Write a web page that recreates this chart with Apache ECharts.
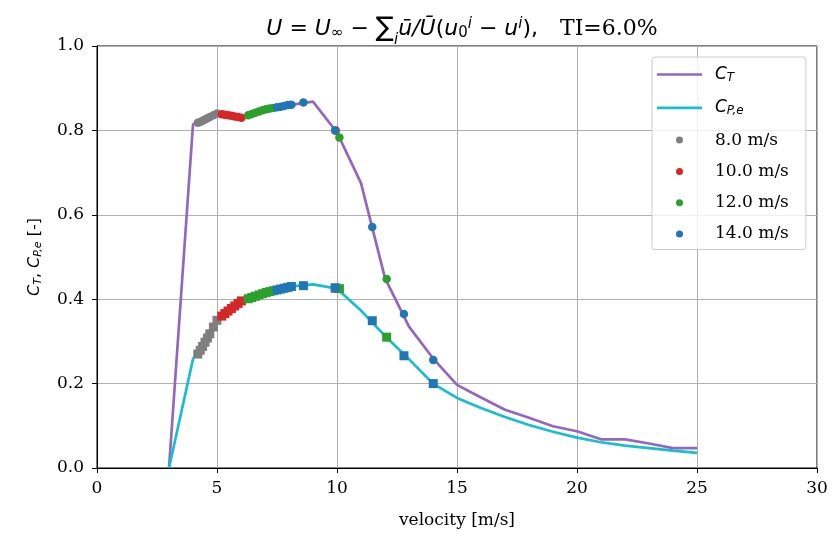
<!DOCTYPE html>
<html>
<head>
<meta charset="utf-8">
<script src="https://cdn.jsdelivr.net/npm/echarts@6/dist/echarts.min.js"></script>
<style>
  html, body { margin: 0; padding: 0; background: #fff; }
  #chart { width: 839px; height: 535px; }
</style>
</head>
<body>
<div id="chart"></div>
<script>
// Turbine curves sampled at integer wind speeds
const velocity = [3, 4, 5, 6, 7, 8, 9, 10, 11, 12, 13, 14, 15, 16, 17, 18, 19, 20, 21, 22, 23, 24, 25];
const ctCurve = [0, 0.814, 0.84, 0.83, 0.85, 0.86, 0.868, 0.795, 0.675, 0.45, 0.335, 0.26, 0.197, 0.167, 0.138, 0.119, 0.099, 0.087, 0.068, 0.068, 0.058, 0.047, 0.047];
const cpCurve = [0, 0.258, 0.35, 0.395, 0.415, 0.43, 0.435, 0.425, 0.373, 0.313, 0.258, 0.2, 0.166, 0.142, 0.121, 0.102, 0.086, 0.072, 0.061, 0.053, 0.047, 0.041, 0.036];

// Effective turbine velocities per inflow case, with their operating point
const inflowNames = ['8.0 m/s', '10.0 m/s', '12.0 m/s', '14.0 m/s'];
const inflowColors = ['#7f7f7f', '#d62728', '#2ca02c', '#1f77b4'];

const u8 = [4.2, 4.3, 4.4, 4.5, 4.6, 4.7, 4.85, 5.0];
const ct8 = [0.818, 0.82, 0.823, 0.826, 0.829, 0.832, 0.836, 0.84];
const cp8 = [0.27, 0.279, 0.288, 0.298, 0.308, 0.318, 0.334, 0.35];

const u10 = [5.2, 5.33, 5.46, 5.6, 5.74, 5.88, 6.02, 9.95];
const ct10 = [0.838, 0.837, 0.836, 0.835, 0.833, 0.832, 0.83, 0.8];
const cp10 = [0.36, 0.366, 0.372, 0.378, 0.384, 0.39, 0.396, 0.426];

const u12 = [6.3, 6.45, 6.6, 6.75, 6.9, 7.05, 7.2, 7.35, 10.1, 12.07];
const ct12 = [0.836, 0.839, 0.842, 0.845, 0.848, 0.85, 0.852, 0.853, 0.783, 0.448];
const cp12 = [0.401, 0.404, 0.407, 0.41, 0.413, 0.416, 0.418, 0.42, 0.425, 0.31];

const u14 = [7.5, 7.65, 7.8, 7.95, 8.1, 8.6, 9.92, 11.47, 12.79, 14.01];
const ct14 = [0.855, 0.856, 0.858, 0.86, 0.861, 0.866, 0.8, 0.571, 0.365, 0.256];
const cp14 = [0.422, 0.424, 0.426, 0.428, 0.43, 0.432, 0.427, 0.349, 0.266, 0.2];

const xTicks = [0, 5, 10, 15, 20, 25, 30];
const yTicks = [0.0, 0.2, 0.4, 0.6, 0.8, 1.0];

const pairs = (xs, ys) => xs.map((x, i) => [x, ys[i]]);
const caseU = [u8, u10, u12, u14];
const caseCt = [ct8, ct10, ct12, ct14];
const caseCp = [cp8, cp10, cp12, cp14];

const mathFont = 'DejaVu Sans';
const serifFont = 'DejaVu Serif';
// flat bar used as the legend handle of the two curves
const lineHandle = 'path://M0,0 L45,0 L45,2.7 L0,2.7 Z';

const series = [
  {
    name: 'CT', type: 'line', data: pairs(velocity, ctCurve),
    symbol: 'none', showSymbol: false, color: '#9467bd',
    lineStyle: { color: '#9467bd', width: 2.7 }, z: 2
  },
  {
    name: 'CPe', type: 'line', data: pairs(velocity, cpCurve),
    symbol: 'none', showSymbol: false, color: '#17becf',
    lineStyle: { color: '#17becf', width: 2.7 }, z: 2
  }
];
inflowNames.forEach((name, k) => {
  series.push({
    name, type: 'scatter', data: pairs(caseU[k], caseCt[k]),
    symbol: 'circle', symbolSize: 8.5, color: inflowColors[k],
    itemStyle: { color: inflowColors[k], opacity: 1 }, z: 3
  });
  series.push({
    name, type: 'scatter', data: pairs(caseU[k], caseCp[k]),
    symbol: 'rect', symbolSize: 9, color: inflowColors[k],
    itemStyle: { color: inflowColors[k], opacity: 1 }, z: 3
  });
});

const axisCommon = {
  axisLine: { show: true, onZero: false, lineStyle: { color: '#000', width: 1 } },
  axisTick: { show: true, inside: false, length: 5, lineStyle: { color: '#000', width: 1 } },
  splitLine: { show: true, lineStyle: { color: '#b0b0b0', width: 1 } }
};

const txt = (extra) => Object.assign({ color: '#000', fontWeight: 'normal' }, extra);

const chart = echarts.init(document.getElementById('chart'), null, { renderer: 'canvas' });
chart.setOption({
  animation: false,
  backgroundColor: '#fff',
  title: {
    left: 457,
    textAlign: 'center',
    top: 9,
    text: '{it|U}{rm| = }{it|U}{sub|∞}{rm| − }{sum|∑}{subi|i}{it|ū/Ū}{rm|(}{it|u}{sub|0}{sup|i}{rm| − }{it|u}{sup|i}{rm|),}{gap| }{serif|TI=6.0%}',
    textStyle: {
      fontWeight: 'normal',
      rich: {
        it: txt({ fontFamily: mathFont, fontStyle: 'italic', fontSize: 22, lineHeight: 30 }),
        rm: txt({ fontFamily: mathFont, fontSize: 22, lineHeight: 30 }),
        sub: txt({ fontFamily: mathFont, fontSize: 15, lineHeight: 16, padding: [8, 0, 0, 0] }),
        sup: txt({ fontFamily: mathFont, fontStyle: 'italic', fontSize: 15, lineHeight: 16, padding: [0, 0, 10, 0] }),
        sum: txt({ fontFamily: mathFont, fontSize: 27, lineHeight: 30 }),
        subi: txt({ fontFamily: mathFont, fontStyle: 'italic', fontSize: 15, lineHeight: 16, padding: [22, 0, 0, 0] }),
        gap: txt({ fontSize: 22, width: 22 }),
        serif: txt({ fontFamily: serifFont, fontSize: 22, lineHeight: 30 })
      }
    }
  },
  grid: {
    left: 97, right: 22, top: 46, bottom: 67,
    show: true, borderColor: '#000', borderWidth: 1, backgroundColor: 'transparent'
  },
  legend: {
    orient: 'vertical',
    left: 652, top: 57,
    padding: [8, 17, 7, 5],
    itemWidth: 45, itemHeight: 7,
    itemGap: 14.3,
    backgroundColor: 'rgba(255,255,255,0.8)',
    borderColor: '#cccccc', borderWidth: 1, borderRadius: 3,
    data: [
      { name: 'CT', icon: lineHandle, itemStyle: { color: '#9467bd' } },
      { name: 'CPe', icon: lineHandle, itemStyle: { color: '#17becf' } },
      ...inflowNames.map(n => ({ name: n, icon: 'circle' }))
    ],
    formatter: name => {
      if (name === 'CT') return '{c|C}{s|T}';
      if (name === 'CPe') return '{c|C}{s|P,e}';
      return '{t|' + name + '}';
    },
    textStyle: {
      rich: {
        c: txt({ fontFamily: mathFont, fontStyle: 'italic', fontSize: 17, lineHeight: 20, padding: [0, 0, 0, 8] }),
        s: txt({ fontFamily: mathFont, fontStyle: 'italic', fontSize: 12, lineHeight: 14, padding: [7, 0, 0, 0] }),
        t: txt({ fontFamily: serifFont, fontSize: 17, lineHeight: 20, padding: [0, 0, 0, 8] })
      }
    }
  },
  xAxis: Object.assign({
    type: 'value', min: 0, max: 30, interval: 5,
    name: 'velocity [m/s]', nameLocation: 'middle', nameGap: 44,
    nameTextStyle: { fontFamily: serifFont, fontSize: 17, color: '#000' },
    axisLabel: {
      margin: 12, fontFamily: serifFont, fontSize: 17, color: '#000',
      customValues: xTicks, formatter: v => String(v)
    }
  }, axisCommon),
  yAxis: Object.assign({
    type: 'value', min: 0, max: 1, interval: 0.2,
    name: '{it|C}{s|T}{rm|, }{it|C}{s|P,e}{rm| [-]}',
    nameLocation: 'middle', nameGap: 52, nameRotate: 90,
    nameTextStyle: {
      rich: {
        it: txt({ fontFamily: mathFont, fontStyle: 'italic', fontSize: 16, lineHeight: 20 }),
        s: txt({ fontFamily: mathFont, fontStyle: 'italic', fontSize: 11, lineHeight: 13, padding: [7, 0, 0, 0] }),
        rm: txt({ fontFamily: mathFont, fontSize: 16, lineHeight: 20 })
      }
    },
    axisLabel: {
      margin: 13, fontFamily: serifFont, fontSize: 17, color: '#000',
      customValues: yTicks, formatter: v => v.toFixed(1)
    }
  }, axisCommon),
  series
});
</script>
</body>
</html>
